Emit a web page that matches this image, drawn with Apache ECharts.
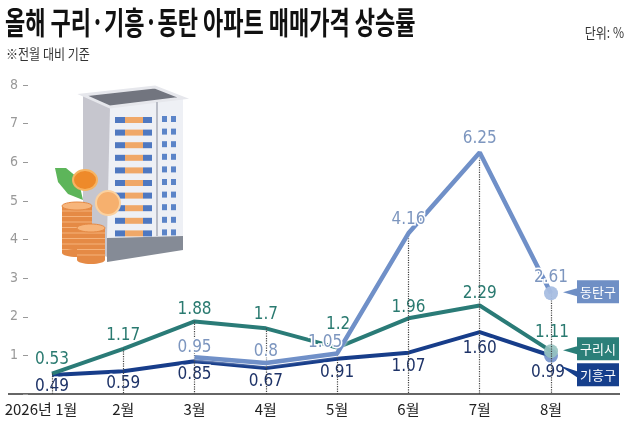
<!DOCTYPE html>
<html>
<head>
<meta charset="utf-8">
<script src="https://cdn.jsdelivr.net/npm/echarts@6/dist/echarts.min.js"></script>
<style>
html, body { margin: 0; padding: 0; background: #fff; }
#chart { width: 628px; height: 439px; }
</style>
</head>
<body>
<div id="chart"></div>
<script>
// 전월 대비 매매가격 상승률 (%)
var months = ['2026년 1월', '2월', '3월', '4월', '5월', '6월', '7월', '8월'];
var guri = [0.53, 1.17, 1.88, 1.7, 1.2, 1.96, 2.29, 1.11];
var giheung = [0.49, 0.59, 0.85, 0.67, 0.91, 1.07, 1.60, 0.99];
var dongtan = [null, null, 0.95, 0.8, 1.05, 4.16, 6.25, 2.61];
var yTicks = [0, 1, 2, 3, 4, 5, 6, 7, 8];

// label nudges (px) so the numbers sit like the original
var guriOff = [[0, -14], [0, -13], [0, -12], [0, -14], [1, -23], [0, -11], [0, -12], [1, -19]];
var giheungOff = [[0, 12], [0, 12], [0, 13], [0, 13], [0, 14], [0, 14], [0, 16], [-3, 17]];
var dongtanOff = [null, null, [0, -10], [0, -12], [-12, -11], [0, -14], [0, -14], [0, -16]];

var numFont = "'DejaVu Sans Condensed', 'Noto Sans CJK KR', sans-serif";
var krFont = "'Noto Sans CJK KR', sans-serif";

function makeData(vals, offs, color, lastColor, fixed) {
  return vals.map(function (v, i) {
    if (v == null) return '-';
    var last = i === vals.length - 1;
    return {
      value: v,
      symbolSize: last ? 14 : 1,
      itemStyle: { color: last ? lastColor : 'rgba(0,0,0,0)' },
      label: {
        offset: offs[i],
        formatter: fixed ? v.toFixed(2) : String(v)
      }
    };
  });
}

function valueLabel(color) {
  return {
    show: true,
    position: 'inside',
    color: color,
    fontFamily: numFont,
    fontSize: 17,
    textBorderColor: '#fff',
    textBorderWidth: 3
  };
}

function callout(name, value, path, w, offset, labelDx, color) {
  return {
    silent: true,
    symbol: path,
    symbolSize: [w, 23],
    symbolOffset: offset,
    itemStyle: { color: color },
    label: {
      show: true,
      position: 'inside',
      offset: [labelDx, 0],
      formatter: name,
      color: '#fff',
      fontFamily: krFont,
      fontSize: 13
    },
    data: [{ coord: [months.length - 1, value] }]
  };
}

// dotted guides from the highest point of each month down to the axis
var guides = months.map(function (m, i) {
  var top = Math.max.apply(null, [guri[i], giheung[i], dongtan[i]].filter(function (v) { return v != null; }));
  return [{ coord: [m, top] }, { coord: [m, 0] }];
});

// building + coins illustration
function building() {
  var els = [];
  els.push({ type: 'polygon', shape: { points: [[83, 95], [110, 107], [110, 258], [83, 248]] }, style: { fill: '#c6c6ce' } });
  els.push({ type: 'polygon', shape: { points: [[110, 107], [183, 98], [183, 236], [107, 238]] }, style: { fill: '#eef0f5' } });
  els.push({ type: 'polygon', shape: { points: [[107, 238], [183, 236], [183, 250], [107, 262]] }, style: { fill: '#858b96' } });
  els.push({ type: 'polygon', shape: { points: [[83, 95], [110, 107], [183, 98], [155, 87]] }, style: { fill: '#72757f', stroke: '#e6e7ec', lineWidth: 3 } });
  els.push({ type: 'line', shape: { x1: 157, y1: 102, x2: 157, y2: 236 }, style: { stroke: '#b9bcc6', lineWidth: 2 } });
  for (var r = 0; r < 10; r++) {
    var y = 117 + r * 12.6;
    els.push({ type: 'rect', shape: { x: 115, y: y, width: 10, height: 6 }, style: { fill: '#4f78c0' } });
    els.push({ type: 'rect', shape: { x: 125, y: y, width: 18, height: 6 }, style: { fill: '#f0a868' } });
    els.push({ type: 'rect', shape: { x: 143, y: y, width: 9, height: 6 }, style: { fill: '#4f78c0' } });
    els.push({ type: 'rect', shape: { x: 162, y: y - 1, width: 5, height: 6 }, style: { fill: '#5b84c8' } });
    els.push({ type: 'rect', shape: { x: 171, y: y - 1, width: 5, height: 6 }, style: { fill: '#5b84c8' } });
  }
  els.push({ type: 'polygon', shape: { points: [[55, 168], [66, 168], [78, 178], [83, 200], [68, 194], [58, 182]] }, style: { fill: '#5db55a' } });
  function stack(x, w, top, bottom) {
    els.push({ type: 'rect', shape: { x: x, y: top, width: w, height: bottom - top }, style: { fill: '#e58a45' } });
    for (var yy = top + 5; yy < bottom; yy += 5.5) {
      els.push({ type: 'line', shape: { x1: x, y1: yy, x2: x + w, y2: yy }, style: { stroke: '#f5b27a', lineWidth: 1 } });
    }
    els.push({ type: 'ellipse', shape: { cx: x + w / 2, cy: bottom, rx: w / 2, ry: 4 }, style: { fill: '#e58a45' } });
    els.push({ type: 'ellipse', shape: { cx: x + w / 2, cy: top, rx: w / 2, ry: 4 }, style: { fill: '#f7b57b', stroke: '#e58a45', lineWidth: 1 } });
  }
  stack(62, 30, 206, 253);
  stack(77, 28, 228, 260);
  els.push({ type: 'ellipse', shape: { cx: 85, cy: 180, rx: 12, ry: 10 }, style: { fill: '#ee8a2a', stroke: '#f7b462', lineWidth: 2 } });
  els.push({ type: 'ellipse', shape: { cx: 108, cy: 203, rx: 12, ry: 12 }, style: { fill: '#f6b06e', stroke: '#fbd19f', lineWidth: 2 } });
  return { type: 'group', silent: true, children: els };
}

var chart = echarts.init(document.getElementById('chart'));

var option = {
  animation: false,
  backgroundColor: '#fff',
  grid: { left: 52, right: 77, top: 85, bottom: 45 },
  xAxis: {
    type: 'category',
    data: months,
    boundaryGap: false,
    axisLine: { show: false },
    axisTick: { show: false },
    axisLabel: {
      interval: 0,
      margin: 8,
      color: '#222',
      fontFamily: krFont,
      fontSize: 15,
      formatter: function (v, i) { return i === 0 ? '{a|' + v + '}{p|}' : v; },
      rich: {
        a: { color: '#222', fontFamily: krFont, fontSize: 15 },
        p: { width: 22 }
      }
    }
  },
  yAxis: {
    type: 'value',
    min: yTicks[0],
    max: yTicks[yTicks.length - 1],
    interval: 1,
    offset: 24,
    splitLine: { show: false },
    axisLine: { show: false },
    axisTick: { show: true, length: 5, lineStyle: { color: '#999' } },
    axisLabel: {
      margin: 10,
      color: '#999',
      fontFamily: numFont,
      fontSize: 14,
      formatter: function (v) { return v === 0 ? '' : v; }
    }
  },
  graphic: [
    building(),
    { type: 'line', silent: true, shape: { x1: 8, y1: 394, x2: 620, y2: 394 }, style: { stroke: '#333', lineWidth: 1.5 } },
    { type: 'text', x: 5, y: 7, scaleX: 0.71, style: { text: '올해 구리·기흥·동탄 아파트 매매가격 상승률', fontFamily: krFont, fontWeight: 'bold', fontSize: 31, fill: '#111', verticalAlign: 'top' } },
    { type: 'text', x: 6, y: 47, scaleX: 0.86, style: { text: '※전월 대비 기준', fontFamily: krFont, fontSize: 14, fill: '#333', verticalAlign: 'top' } },
    { type: 'text', x: 624, y: 26, scaleX: 0.86, style: { text: '단위: %', fontFamily: krFont, fontSize: 14, fill: '#333', align: 'right', verticalAlign: 'top' } }
  ],
  series: [
    {
      name: '기흥구',
      type: 'line',
      z: 3,
      data: makeData(giheung, giheungOff, '#1e3368', 'rgba(95,130,195,0.8)', true),
      symbol: 'circle',
      showAllSymbol: true,
      lineStyle: { color: '#173d8a', width: 4 },
      label: valueLabel('#1e3368'),
      markLine: {
        silent: true,
        symbol: ['none', 'none'],
        label: { show: false },
        lineStyle: { color: '#444', type: 'dotted', width: 1.2 },
        data: guides
      },
      markPoint: callout('기흥구', giheung[7], 'path://M0,2 L18,8 L18,14 Z M18,0 L60,0 L60,23 L18,23 Z', 60, [38, 19], 9, '#163f8c')
    },
    {
      name: '구리시',
      type: 'line',
      z: 4,
      data: makeData(guri, guriOff, '#2a7a70', 'rgba(150,195,192,0.9)', false),
      symbol: 'circle',
      showAllSymbol: true,
      lineStyle: { color: '#2a7b77', width: 4 },
      label: valueLabel('#2a7a70'),
      markPoint: callout('구리시', guri[7], 'path://M0,13 L14,9 L14,17 Z M14,0 L56,0 L56,23 L14,23 Z', 56, [40, -2.5], 7, '#2b7f79')
    },
    {
      name: '동탄구',
      type: 'line',
      z: 5,
      data: makeData(dongtan, dongtanOff, '#7d96bf', 'rgba(168,190,225,0.95)', false),
      symbol: 'circle',
      showAllSymbol: true,
      lineStyle: { color: '#7090c8', width: 4.5, shadowColor: '#fff', shadowBlur: 3 },
      label: valueLabel('#7d96bf'),
      markPoint: callout('동탄구', dongtan[7], 'path://M0,12 L14,8 L14,16 Z M14,0 L56,0 L56,23 L14,23 Z', 56, [40, -1.5], 7, '#6f8fc5')
    }
  ]
};

chart.setOption(option);
</script>
</body>
</html>
